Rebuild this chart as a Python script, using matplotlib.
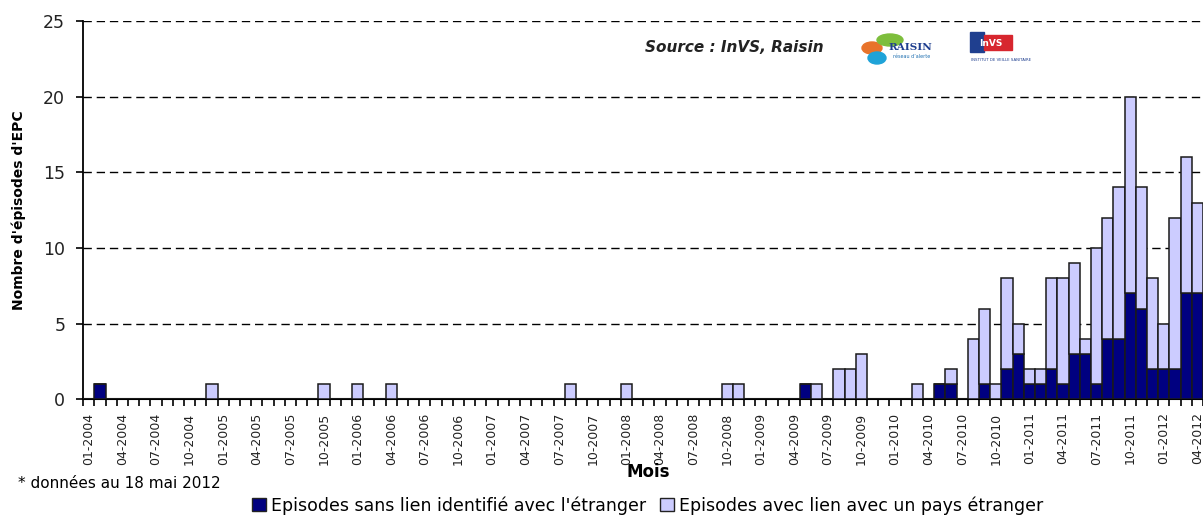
import matplotlib
matplotlib.use('Agg')
import matplotlib.pyplot as plt
import numpy as np
import pandas as pd
from matplotlib.patches import Patch, Rectangle, Ellipse

# Mois de 01-2004 a 04-2012
months = pd.period_range('2004-01', '2012-04', freq='M').strftime('%m-%Y').tolist()

# Episodes sans lien identifie avec l'etranger (une ligne par annee)
sans_lien = (
    [0, 1, 0, 0, 0, 0, 0, 0, 0, 0, 0, 0] +   # 2004
    [0, 0, 0, 0, 0, 0, 0, 0, 0, 0, 0, 0] +   # 2005
    [0, 0, 0, 0, 0, 0, 0, 0, 0, 0, 0, 0] +   # 2006
    [0, 0, 0, 0, 0, 0, 0, 0, 0, 0, 0, 0] +   # 2007
    [0, 0, 0, 0, 0, 0, 0, 0, 0, 0, 0, 0] +   # 2008
    [0, 0, 0, 0, 1, 0, 0, 0, 0, 0, 0, 0] +   # 2009
    [0, 0, 0, 0, 1, 1, 0, 0, 1, 0, 2, 3] +   # 2010
    [1, 1, 2, 1, 3, 3, 1, 4, 4, 7, 6, 2] +   # 2011
    [2, 2, 7, 7]                             # 2012
)

# Episodes avec lien avec un pays etranger
avec_lien = (
    [0, 0, 0, 0, 0, 0, 0, 0, 0, 0, 0, 1] +   # 2004
    [0, 0, 0, 0, 0, 0, 0, 0, 0, 1, 0, 0] +   # 2005
    [1, 0, 0, 1, 0, 0, 0, 0, 0, 0, 0, 0] +   # 2006
    [0, 0, 0, 0, 0, 0, 0, 1, 0, 0, 0, 0] +   # 2007
    [1, 0, 0, 0, 0, 0, 0, 0, 0, 1, 1, 0] +   # 2008
    [0, 0, 0, 0, 0, 1, 0, 2, 2, 3, 0, 0] +   # 2009
    [0, 0, 1, 0, 0, 1, 0, 4, 5, 1, 6, 2] +   # 2010
    [1, 1, 6, 7, 6, 1, 9, 8, 10, 13, 8, 6] + # 2011
    [3, 10, 9, 6]                            # 2012
)

W, H = 1203, 515


def fx(x):
    return x / W


def fy(y):
    return 1 - y / H


fig = plt.figure(figsize=(W / 100, H / 100), dpi=100)
ax = fig.add_axes([fx(83.3), fy(399.3), 1 - fx(83.3), fy(21) - fy(399.3)])

x = np.arange(len(months))
c_dark = '#000080'
c_light = '#CCCCFF'
ax.bar(x, sans_lien, width=1.0, color=c_dark, edgecolor='#1a1a1a', linewidth=1.1, zorder=3)
ax.bar(x, avec_lien, width=1.0, bottom=sans_lien, color=c_light, edgecolor='#1a1a1a',
       linewidth=1.1, zorder=3)

ax.set_xlim(-0.5, len(months) - 0.5)
ax.set_ylim(0, 25)
ax.set_yticks(range(0, 26, 5))

# grille pointillee horizontale
ax.yaxis.grid(True, linestyle=(0, (6, 3.5)), color='black', linewidth=1)
ax.set_axisbelow(True)

for s in ['top', 'right']:
    ax.spines[s].set_visible(False)
ax.spines['left'].set_linewidth(1.3)
ax.spines['bottom'].set_linewidth(1.5)

# ticks x : petites marques entre les mois, etiquette tous les 3 mois
ax.set_xticks(x[::3])
ax.set_xticklabels(months[::3], rotation=90, fontsize=9, color='#222222')
ax.set_xticks(np.arange(-0.5, len(months), 1.0), minor=True)
ax.tick_params(axis='x', which='major', length=0, pad=9.5)
ax.tick_params(axis='x', which='minor', length=5, width=1.2, direction='out')
ax.tick_params(axis='y', length=5, width=1.2, direction='out', pad=8, labelsize=12.5,
               labelcolor='#222222')

ax.set_ylabel("Nombre d'épisodes d'EPC", fontsize=10, fontweight='bold')
ax.yaxis.set_label_coords((26 - 83.3) / (W - 83.3), 0.5)

fig.text(fx(648), fy(472), 'Mois', ha='center', va='center', fontsize=12, fontweight='bold')
fig.text(fx(18), fy(483), '* données au 18 mai 2012', ha='left', va='center', fontsize=11)

fig.text(fx(645), fy(48), 'Source : InVS, Raisin', ha='left', va='center', fontsize=11,
         fontweight='bold', fontstyle='italic', color='#222222')

# petits logos (approximation)
logo = [
    Ellipse((fx(872), fy(48)), fx(20), 1 - fy(12), color='#E8732A'),
    Ellipse((fx(890), fy(40)), fx(26), 1 - fy(12), color='#7DBE3C'),
    Ellipse((fx(877), fy(58)), fx(18), 1 - fy(12), color='#1FA3D8'),
    Rectangle((fx(970), fy(52)), fx(14), 1 - fy(20), color='#1F3F8F'),
    Rectangle((fx(984), fy(50)), fx(28), 1 - fy(15), color='#D7262E'),
]
for p in logo:
    fig.add_artist(p)
fig.text(fx(910), fy(47), 'RAISIN', ha='center', va='center', fontsize=7.5,
         fontweight='bold', family='DejaVu Serif', color='#1F3F8F')
fig.text(fx(912), fy(57), 'réseau d’alerte', ha='center', va='center', fontsize=3.5,
         color='#1F6FB0')
fig.text(fx(991), fy(43), 'InVS', ha='center', va='center', fontsize=6.5, color='white',
         fontweight='bold')
fig.text(fx(1001), fy(60), 'INSTITUT DE VEILLE SANITAIRE', ha='center', va='center',
         fontsize=2.8, color='#1F3F8F')

handles = [Patch(facecolor=c_dark, edgecolor='#222222'),
           Patch(facecolor=c_light, edgecolor='#222222')]
labels = ["Episodes sans lien identifié avec l'étranger",
          'Episodes avec lien avec un pays étranger']
fig.legend(handles, labels, loc='center', bbox_to_anchor=(fx(648), fy(505.5)), ncol=2,
           frameon=False, fontsize=12.5, handlelength=0.8, handleheight=0.8,
           handletextpad=0.3, columnspacing=0.8, borderpad=0)

fig.savefig('out.png', dpi=100)
